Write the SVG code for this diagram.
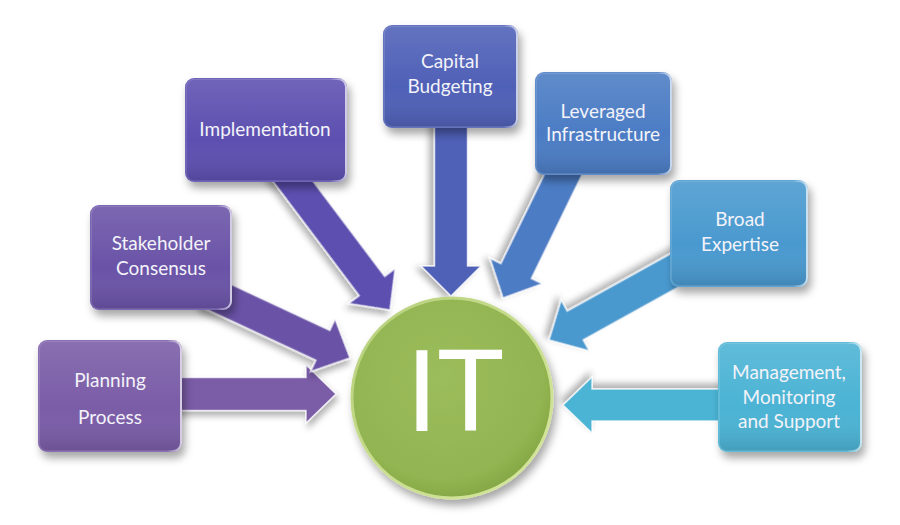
<svg xmlns="http://www.w3.org/2000/svg" width="900" height="525" viewBox="0 0 900 525">
<defs>
  <filter id="shadow" x="-20%" y="-20%" width="150%" height="160%">
    <feDropShadow dx="3" dy="6" stdDeviation="4" flood-color="#000" flood-opacity="0.35"/>
  </filter>
  <filter id="ashadow" x="-20%" y="-30%" width="140%" height="160%">
    <feDropShadow dx="2" dy="5" stdDeviation="3" flood-color="#000" flood-opacity="0.3"/>
  </filter>
  <linearGradient id="sheen" x1="0" y1="0" x2="0" y2="1">
    <stop offset="0" stop-color="#ffffff" stop-opacity="0.12"/>
    <stop offset="0.6" stop-color="#ffffff" stop-opacity="0"/>
    <stop offset="1" stop-color="#000000" stop-opacity="0.12"/>
  </linearGradient>
  <linearGradient id="edge" x1="0" y1="0" x2="1" y2="0">
    <stop offset="0" stop-color="#ffffff" stop-opacity="0.12"/>
    <stop offset="0.9" stop-color="#ffffff" stop-opacity="0.12"/>
    <stop offset="1" stop-color="#ffffff" stop-opacity="0.7"/>
  </linearGradient>
  <radialGradient id="green" cx="0.45" cy="0.4" r="0.6">
    <stop offset="0" stop-color="#9cbd5b"/>
    <stop offset="0.85" stop-color="#92b451"/>
    <stop offset="1" stop-color="#86a946"/>
  </radialGradient>
  <linearGradient id="rim" x1="0" y1="0" x2="1" y2="1">
    <stop offset="0" stop-color="#b5cf7c"/>
    <stop offset="0.5" stop-color="#c8dd8e"/>
    <stop offset="1" stop-color="#d5e69c"/>
  </linearGradient>
  <style>
    .box { filter: url(#shadow); }
    .gloss { fill: url(#sheen); stroke: url(#edge); stroke-width: 2; }
    .arrow { stroke: #ffffff; stroke-opacity: 0.75; stroke-width: 1.5; stroke-linejoin: miter; filter: url(#ashadow); }
    .lbl { font-family: Lato, "Liberation Sans", sans-serif; font-size: 19px; fill: #f3f3f9; text-anchor: middle; }
    .it { font-family: Lato, "Liberation Sans", sans-serif; font-weight: 400; font-size: 112px; fill: #ffffff; text-anchor: middle; }
  </style>
</defs>

<g id="connectors">
  <polygon class="arrow" fill="#7a5ba7" transform="translate(336,394) rotate(0)" points="-166,-16.5 -30,-16.5 -30,-29 0,0 -30,29 -30,16.5 -166,16.5"/>
  <polygon class="arrow" fill="#6a53a7" transform="translate(350,358) rotate(25)" points="-160,-16.5 -30,-16.5 -30,-29 0,0 -30,29 -30,16.5 -160,16.5"/>
  <polygon class="arrow" fill="#5c4fb0" transform="translate(390,310) rotate(53)" points="-185,-16 -30,-16 -30,-29 0,0 -30,29 -30,16 -185,16"/>
  <polygon class="arrow" fill="#4f60b7" transform="translate(451,296) rotate(90)" points="-186,-16.5 -30,-16.5 -30,-30 0,0 -30,30 -30,16.5 -186,16.5"/>
  <polygon class="arrow" fill="#4b7cc4" transform="translate(503,298) rotate(116)" points="-165,-17 -30,-17 -30,-29 0,0 -30,29 -30,17 -165,17"/>
  <polygon class="arrow" fill="#4a99cf" transform="translate(549,340) rotate(151)" points="-165,-16.5 -30,-16.5 -30,-29 0,0 -30,29 -30,16.5 -165,16.5"/>
  <polygon class="arrow" fill="#4bb3d4" transform="translate(563,405) rotate(180)" points="-177,-16 -29,-16 -29,-28 0,0 -29,28 -29,16 -177,16"/>
</g>

<g id="planning">
  <rect class="box" x="38" y="340" width="144" height="112" rx="9" fill="#7a5ba7"/>
  <rect class="gloss" x="39" y="341" width="142" height="110" rx="8"/>
  <text class="lbl" x="110" y="387">Planning</text>
  <text class="lbl" x="110" y="424">Process</text>
</g>

<g id="stakeholder">
  <rect class="box" x="90" y="205" width="142" height="105" rx="9" fill="#6a53a7"/>
  <rect class="gloss" x="91" y="206" width="140" height="103" rx="8"/>
  <text class="lbl" x="161" y="250">Stakeholder</text>
  <text class="lbl" x="161" y="275">Consensus</text>
</g>

<g id="implementation">
  <rect class="box" x="185" y="78" width="162" height="104" rx="9" fill="#5c4fb0"/>
  <rect class="gloss" x="186" y="79" width="160" height="102" rx="8"/>
  <text class="lbl" x="265" y="136">Implementation</text>
</g>

<g id="capital">
  <rect class="box" x="383" y="25" width="135" height="103" rx="9" fill="#4f60b7"/>
  <rect class="gloss" x="384" y="26" width="133" height="101" rx="8"/>
  <text class="lbl" x="450" y="68">Capital</text>
  <text class="lbl" x="450" y="93">Budgeting</text>
</g>

<g id="leveraged">
  <rect class="box" x="535" y="72" width="137" height="103" rx="9" fill="#4b7cc4"/>
  <rect class="gloss" x="536" y="73" width="135" height="101" rx="8"/>
  <text class="lbl" x="603" y="118">Leveraged</text>
  <text class="lbl" x="603" y="141">Infrastructure</text>
</g>

<g id="broad">
  <rect class="box" x="670" y="180" width="138" height="107" rx="9" fill="#4a99cf"/>
  <rect class="gloss" x="671" y="181" width="136" height="105" rx="8"/>
  <text class="lbl" x="740" y="226">Broad</text>
  <text class="lbl" x="740" y="251">Expertise</text>
</g>

<g id="management">
  <rect class="box" x="718" y="342" width="144" height="110" rx="9" fill="#4bb3d4"/>
  <rect class="gloss" x="719" y="343" width="142" height="108" rx="8"/>
  <text class="lbl" x="789" y="379">Management,</text>
  <text class="lbl" x="789" y="404">Monitoring</text>
  <text class="lbl" x="789" y="428">and Support</text>
</g>

<g id="it">
  <circle cx="452" cy="398" r="100" fill="url(#green)" stroke="url(#rim)" stroke-width="3" filter="url(#shadow)"/>
  <text class="it" x="455" y="431">IT</text>
</g>
</svg>
